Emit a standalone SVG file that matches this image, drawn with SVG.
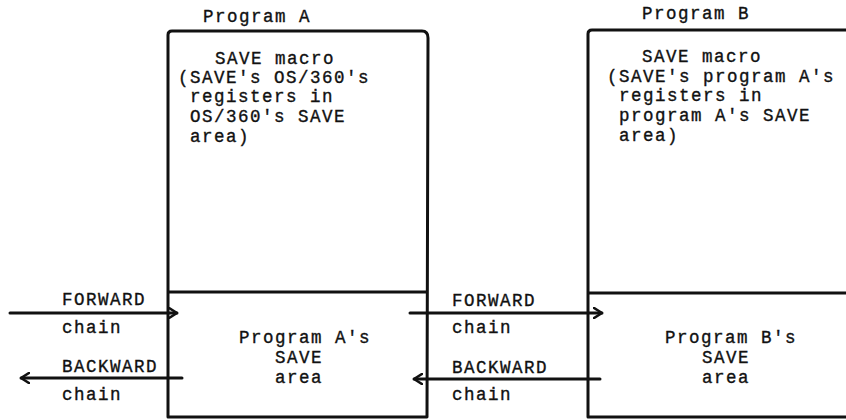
<svg xmlns="http://www.w3.org/2000/svg" width="846" height="420" viewBox="0 0 846 420">
<style>
text{font-family:"Liberation Mono","DejaVu Sans Mono",monospace;font-size:17.5px;letter-spacing:1.5px;fill:#111;stroke:#111;stroke-width:0.35}
.box{fill:none;stroke:#111;stroke-width:3;stroke-linejoin:round}
.arr{fill:none;stroke:#111;stroke-width:3;stroke-linecap:round}
</style>
<defs>
<marker id="ah" viewBox="0 0 10 12" refX="9" refY="6" markerWidth="10" markerHeight="12" markerUnits="userSpaceOnUse" orient="auto">
<path d="M1,1 L9,6 L1,11" fill="none" stroke="#111" stroke-width="2.6" stroke-linecap="round" stroke-linejoin="round"/>
</marker>
</defs>
<rect width="846" height="420" fill="#fff"/>
<g id="programA">
<text x="203" y="22">Program A</text>
<path class="box" d="M168,417 L168,35 Q168,31 172,31 L422,31 Q428,31 428,38 L427,417 Z"/>
<line class="box" x1="168" y1="292" x2="427" y2="292"/>
<text x="215" y="64">SAVE macro</text>
<text x="178" y="83">(SAVE's OS/360's</text>
<text x="190" y="102">registers in</text>
<text x="190" y="122">OS/360's SAVE</text>
<text x="190" y="142">area)</text>
<text x="239" y="343">Program A's</text>
<text x="275" y="363">SAVE</text>
<text x="275" y="383">area</text>
</g>
<g id="programB">
<text x="642" y="19">Program B</text>
<path class="box" d="M850,30 L592,30 Q588,30 588,34 L588,417 L850,417"/>
<line class="box" x1="588" y1="293" x2="850" y2="293"/>
<text x="642" y="62">SAVE macro</text>
<text x="607" y="82">(SAVE's program A's</text>
<text x="619" y="101">registers in</text>
<text x="619" y="121">program A's SAVE</text>
<text x="619" y="141">area)</text>
<text x="665" y="343">Program B's</text>
<text x="702" y="363">SAVE</text>
<text x="702" y="383">area</text>
</g>
<g id="connectors">
<line class="arr" x1="10" y1="313" x2="177" y2="313" marker-end="url(#ah)"/>
<line class="arr" x1="182" y1="378" x2="21" y2="378" marker-end="url(#ah)"/>
<line class="arr" x1="410" y1="313" x2="602" y2="313" marker-end="url(#ah)"/>
<line class="arr" x1="600" y1="379" x2="414" y2="379" marker-end="url(#ah)"/>
</g>
<g id="labels">
<text x="62" y="305">FORWARD</text>
<text x="62" y="333">chain</text>
<text x="62" y="372">BACKWARD</text>
<text x="62" y="400">chain</text>
<text x="452" y="306">FORWARD</text>
<text x="452" y="333">chain</text>
<text x="452" y="373">BACKWARD</text>
<text x="452" y="400">chain</text>
</g>
</svg>
